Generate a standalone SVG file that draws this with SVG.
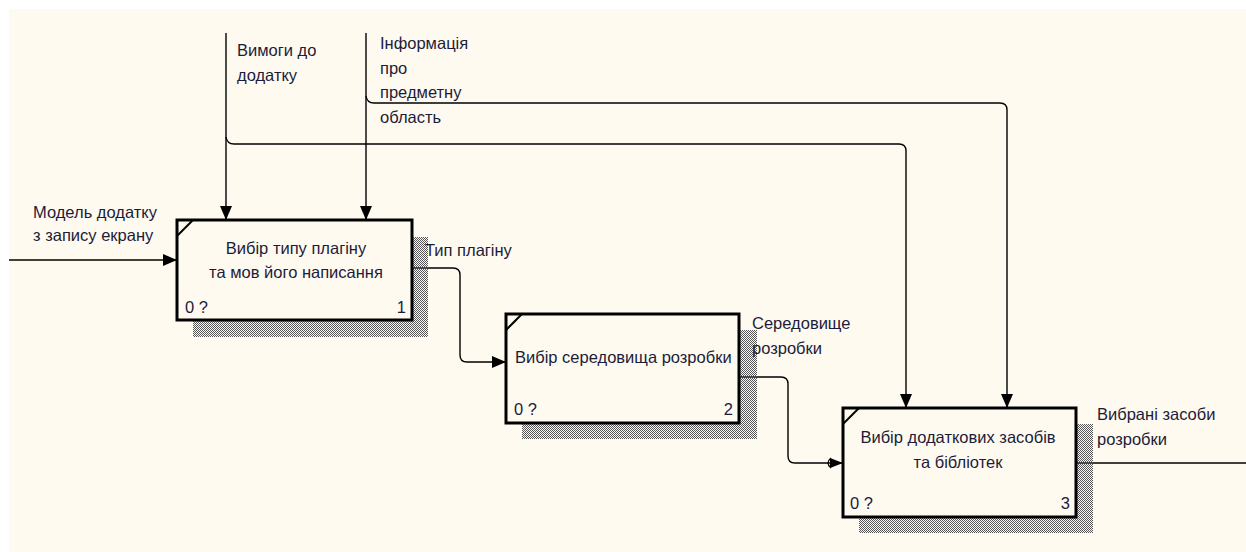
<svg xmlns="http://www.w3.org/2000/svg" width="1246" height="552" viewBox="0 0 1246 552">
  <defs>
    <pattern id="hatch" width="2" height="2" patternUnits="userSpaceOnUse">
      <rect x="0" y="0" width="1" height="1" fill="#555"/>
      <rect x="1" y="1" width="1" height="1" fill="#555"/>
    </pattern>
    <marker id="arrow" viewBox="0 0 14 12" refX="14" refY="6" markerWidth="14" markerHeight="12" markerUnits="userSpaceOnUse" orient="auto">
      <path d="M0,0 L14,6 L0,12 Z" fill="#000"/>
    </marker>
    <marker id="arrowTunnel" viewBox="0 0 18 12" refX="18" refY="6" markerWidth="18" markerHeight="12" markerUnits="userSpaceOnUse" orient="auto">
      <path d="M5,1 L18,6 L5,11 Z" fill="#000"/>
      <path d="M6,1 Q0,6 6,11" fill="none" stroke="#000" stroke-width="1.3"/>
    </marker>
  </defs>
  <style>
    .bg { fill: #fffaf0; }
    .box { fill: #fffaf0; stroke: #000; stroke-width: 3; }
    .shadow { fill: url(#hatch); }
    .corner { stroke: #000; stroke-width: 2; }
    .conn { fill: none; stroke: #000; stroke-width: 1.4; }
    text { font-family: "Liberation Sans", Arial, sans-serif; font-size: 16.5px; fill: #1c1c3a; }
    .mid { text-anchor: middle; }
    .end { text-anchor: end; }
  </style>

  <rect x="0" y="0" width="1246" height="552" fill="#ffffff"/>
  <rect class="bg" x="9" y="9" width="1237" height="543"/>

  <!-- connectors -->
  <g id="connectors">
    <path class="conn" d="M9,260 H177" marker-end="url(#arrow)"/>
    <path class="conn" d="M226,33 V220" marker-end="url(#arrow)"/>
    <path class="conn" d="M366,33 V220" marker-end="url(#arrow)"/>
    <path class="conn" d="M226,137 Q227,144 234,144 H899 Q906,144 906,151 V408" marker-end="url(#arrow)"/>
    <path class="conn" d="M366,96 Q367,103 374,103 H1000 Q1007,103 1007,110 V408" marker-end="url(#arrow)"/>
    <path class="conn" d="M412,268 H453 Q460,268 460,275 V355 Q460,362 467,362 H506" marker-end="url(#arrow)"/>
    <path class="conn" d="M739,377 H781 Q788,377 788,384 V456 Q788,463 795,463 H843" marker-end="url(#arrowTunnel)"/>
    <path class="conn" d="M1076,463 H1246"/>
  </g>

  <!-- activity 1 -->
  <g id="node1">
    <rect class="shadow" x="193" y="237" width="235" height="100"/>
    <rect class="box" x="177" y="220" width="235" height="100"/>
    <line class="corner" x1="177" y1="236" x2="193" y2="220"/>
    <text class="mid" x="296" y="254">Вибір типу плагіну</text>
    <text class="mid" x="296" y="278">та мов його написання</text>
    <text x="185" y="313">0 ?</text>
    <text class="end" x="406" y="313">1</text>
  </g>

  <!-- activity 2 -->
  <g id="node2">
    <rect class="shadow" x="522" y="330" width="235" height="109"/>
    <rect class="box" x="506" y="314" width="233" height="109"/>
    <line class="corner" x1="506" y1="330" x2="522" y2="314"/>
    <text x="515" y="363">Вибір середовища розробки</text>
    <text x="514" y="415">0 ?</text>
    <text class="end" x="733" y="415">2</text>
  </g>

  <!-- activity 3 -->
  <g id="node3">
    <rect class="shadow" x="859" y="424" width="234" height="109"/>
    <rect class="box" x="843" y="408" width="233" height="109"/>
    <line class="corner" x1="843" y1="424" x2="859" y2="408"/>
    <text class="mid" x="958" y="443">Вибір додаткових засобів</text>
    <text class="mid" x="958" y="468">та бібліотек</text>
    <text x="850" y="509">0 ?</text>
    <text class="end" x="1070" y="509">3</text>
  </g>

  <!-- arrow labels -->
  <g id="labels">
    <text x="33" y="218">Модель додатку</text>
    <text x="33" y="241">з запису екрану</text>
    <text x="237" y="56">Вимоги до</text>
    <text x="237" y="81">додатку</text>
    <text x="380" y="49">Інформація</text>
    <text x="380" y="74">про</text>
    <text x="380" y="98">предметну</text>
    <text x="380" y="123">область</text>
    <text x="425" y="256">Тип плагіну</text>
    <text x="752" y="329">Середовище</text>
    <text x="752" y="354">розробки</text>
    <text x="1097" y="420">Вибрані засоби</text>
    <text x="1097" y="445">розробки</text>
  </g>
</svg>
